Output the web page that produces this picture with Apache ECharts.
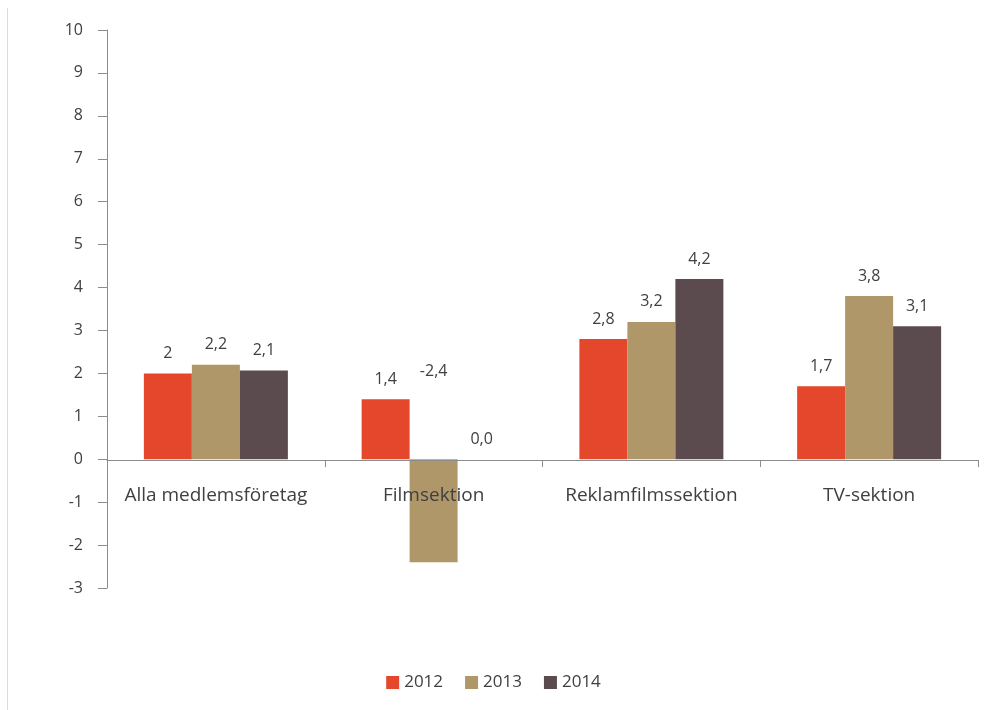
<!DOCTYPE html>
<html><head><meta charset="utf-8">
<script src="https://cdn.jsdelivr.net/npm/echarts@6/dist/echarts.min.js"></script>
<style>html,body{margin:0;padding:0;background:#fff}#c{width:987px;height:710px}</style>
</head><body><div id="c"></div>
<script>
var categories = ['Alla medlemsföretag', 'Filmsektion', 'Reklamfilmssektion', 'TV-sektion'];
var years = ['2012', '2013', '2014'];
var v2012 = [2, 1.4, 2.8, 1.7];
var v2013 = [2.2, -2.4, 3.2, 3.8];
var v2014 = [2.07, 0, 4.2, 3.1];
var labels2012 = ['2', '1,4', '2,8', '1,7'];
var labels2013 = ['2,2', '-2,4', '3,2', '3,8'];
var labels2014 = ['2,1', '0,0', '4,2', '3,1'];
var yTicks = [-3, -2, -1, 0, 1, 2, 3, 4, 5, 6, 7, 8, 9, 10];
var colors = ['#E5472C', '#B0976A', '#5B4B4E'];
var FONT = 'Open Sans';

function mk(name, vals, labs, color) {
  return {
    name: name, type: 'bar', barWidth: 48, barGap: '0%',
    itemStyle: {color: color},
    label: {show: true, position: 'top', distance: 12, color: '#404040', fontSize: 16, fontFamily: FONT,
      formatter: function (p) { return labs[p.dataIndex]; }},
    data: vals.map(function (v) {
      if (v < 0) return {value: v, label: {position: 'top', offset: [0, -68]}};
      return v;
    })
  };
}

var chart = echarts.init(document.getElementById('c'));
chart.setOption({
  animation: false,
  color: colors,
  textStyle: {fontFamily: FONT},
  grid: {left: 107, right: 9, top: 30, bottom: 122},
  legend: {
    bottom: 14, left: 'center', itemWidth: 13, itemHeight: 13, itemGap: 22,
    icon: 'rect', textStyle: {fontSize: 17, color: '#404040', fontFamily: FONT},
    data: years
  },
  xAxis: {
    type: 'category', data: categories, offset: -128, z: 10,
    axisLine: {onZero: false, lineStyle: {color: '#8c8c8c', width: 1}},
    axisTick: {show: true, length: 7, lineStyle: {color: '#8c8c8c'}},
    axisLabel: {color: '#404040', fontSize: 19, margin: 26, interval: 0, fontFamily: FONT}
  },
  yAxis: {
    type: 'value', min: -3, max: 10, interval: 1,
    splitLine: {show: false},
    axisLine: {show: true, lineStyle: {color: '#8c8c8c', width: 1}},
    axisTick: {show: true, length: 9, lineStyle: {color: '#8c8c8c'}},
    axisLabel: {color: '#404040', fontSize: 16, margin: 24, fontFamily: FONT,
      formatter: function (v) { return yTicks.indexOf(v) >= 0 ? String(v) : ''; }}
  },
  graphic: [{type: 'line', shape: {x1: 7.5, y1: 8, x2: 7.5, y2: 710}, style: {stroke: '#dcdcdc', lineWidth: 1}, silent: true}],
  series: [
    mk(years[0], v2012, labels2012, colors[0]),
    mk(years[1], v2013, labels2013, colors[1]),
    mk(years[2], v2014, labels2014, colors[2])
  ]
});
</script></body></html>
